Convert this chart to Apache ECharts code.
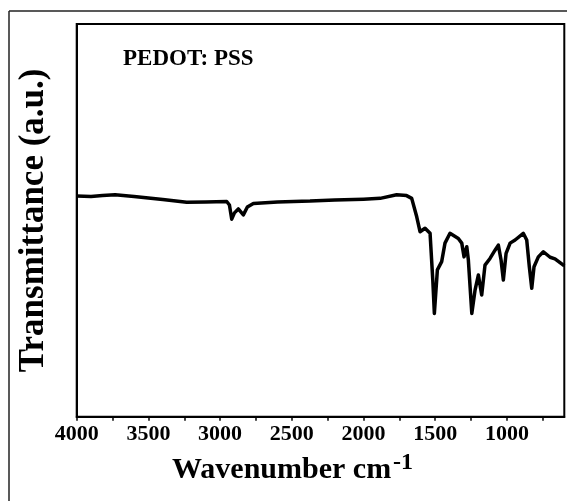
<!DOCTYPE html>
<html><head><meta charset="utf-8">
<script src="https://cdn.jsdelivr.net/npm/echarts@6/dist/echarts.min.js"></script>
<style>html,body{margin:0;padding:0;background:#fff}#c{width:567px;height:501px}</style>
</head><body><div id="c"></div>
<script>
const wavenumbers = [4000,3900,3820,3732,3600,3400,3233,3100,2954,2935,2919,2900,2873,2838,2810,2768,2600,2373,2200,2000,1884,1769,1700,1664,1629,1606,1571,1536,1517,1506,1485,1455,1432,1397,1339,1315,1299,1280,1269,1245,1222,1199,1176,1153,1118,1083,1060,1041,1025,1006,978,943,886,862,844,827,811,781,746,699,665,618,600];
const transmittance = [56.2,56.1,56.3,56.5,56.1,55.3,54.6,54.7,54.8,53.9,50.3,51.9,52.9,51.4,53.4,54.3,54.7,54.9,55.2,55.4,55.6,56.5,56.3,55.6,50.9,47.1,48.0,46.7,34.8,26.3,37.4,39.5,44.2,46.7,45.4,44.2,40.7,43.3,39.9,26.3,32.3,36.1,31.0,38.6,40.3,42.4,43.7,39.9,34.8,41.6,44.2,45.0,46.7,45.0,38.2,32.7,38.2,40.7,42.0,40.6,40.2,38.9,38.4];
const xTickLabels = [4000,3500,3000,2500,2000,1500,1000];
const xTicks = [4000,3750,3500,3250,3000,2750,2500,2250,2000,1750,1500,1250,1000,750];
const sampleLabel = 'PEDOT: PSS';
const xName = 'Wavenumber cm';
const xNameSup = '-1';
const yName = 'Transmittance (a.u.)';

const serif = '"Liberation Serif", "Times New Roman", serif';
const chart = echarts.init(document.getElementById('c'));
chart.setOption({
  animation: false,
  grid: {left: 76.7, right: 2.7, top: 24, bottom: 84.3, show: true, borderColor: '#000', borderWidth: 2},
  xAxis: {
    type: 'value', inverse: true, min: 600, max: 4000,
    axisLine: {show: true, lineStyle: {color: '#000', width: 2}},
    axisTick: {show: true, inside: false, length: 4, lineStyle: {color: '#000', width: 1.5}, customValues: xTicks},
    axisLabel: {color: '#000', fontFamily: serif, fontWeight: 'bold', fontSize: 22, margin: 7, customValues: xTickLabels, formatter: v => String(v)},
    splitLine: {show: false}
  },
  yAxis: {
    type: 'value', min: 0, max: 100,
    axisLine: {show: true, lineStyle: {color: '#000', width: 2}},
    axisTick: {show: false}, axisLabel: {show: false}, splitLine: {show: false},
    name: yName, nameLocation: 'middle', nameRotate: 90, nameGap: 25,
    nameTextStyle: {color: '#000', fontFamily: serif, fontWeight: 'bold', fontSize: 35}
  },
  series: [{
    type: 'line', showSymbol: false, symbol: 'none',
    lineStyle: {color: '#000', width: 3.5, join: 'round'},
    data: wavenumbers.map((w, i) => [w, transmittance[i]])
  }],
  graphic: [
    {type: 'line', shape: {x1: 9, y1: 11, x2: 567, y2: 11}, style: {stroke: '#222', lineWidth: 1.5}},
    {type: 'line', shape: {x1: 9, y1: 11, x2: 9, y2: 501}, style: {stroke: '#222', lineWidth: 1.5}},
    {type: 'text', left: 123, top: 48, style: {text: sampleLabel, fill: '#000', font: 'bold 23px ' + serif}},
    {type: 'text', left: 172, top: 455, style: {text: xName, fill: '#000', font: 'bold 30px ' + serif}},
    {type: 'text', left: 393, top: 451, style: {text: xNameSup, fill: '#000', font: 'bold 24px ' + serif}}
  ]
});
</script></body></html>
